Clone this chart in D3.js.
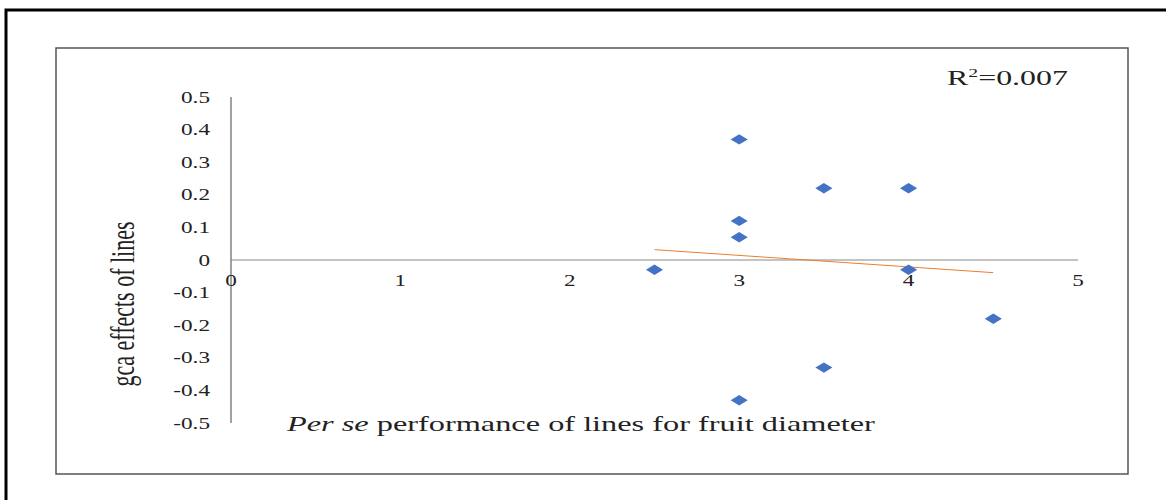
<!DOCTYPE html>
<html lang="en">
<head>
<meta charset="UTF-8">
<title>gca vs per se</title>
<script src="https://cdn.jsdelivr.net/npm/d3@7"></script>
<style>
  body{margin:0;background:#fff}
  text{font-family:"Liberation Serif","Times New Roman",serif;fill:#222}
</style>
</head>
<body>
<div id="chart"></div>
<script>
// data
const perSe = [2.5, 3, 3, 3, 3, 3.5, 3.5, 4, 4, 4.5]
const gca   = [-0.03, 0.37, 0.12, 0.07, -0.43, 0.22, -0.33, 0.22, -0.03, -0.18]
const xTicks = [0, 1, 2, 3, 4, 5]
const yTicks = [0.5, 0.4, 0.3, 0.2, 0.1, 0, -0.1, -0.2, -0.3, -0.4, -0.5]

const W = 1166, H = 500
const sx = 1.45   // picture is stretched sideways, text and markers too

const svg = d3.select('#chart').append('svg').attr('width', W).attr('height', H)

// outer frame (only left and top show)
svg.append('path').attr('d', 'M6,500 L6,10 L1166,10')
  .attr('fill', 'none').attr('stroke', '#000').attr('stroke-width', 3)
// inner box
svg.append('rect').attr('x', 56).attr('y', 48).attr('width', 1072).attr('height', 426)
  .attr('fill', 'none').attr('stroke', '#555').attr('stroke-width', 1.5)

const x = d3.scaleLinear().domain([0, 5]).range([231, 1078])
const y = d3.scaleLinear().domain([-0.5, 0.5]).range([423, 97])

// axes: the line only, no tick marks
svg.append('line').attr('x1', x(0)).attr('x2', x(0)).attr('y1', y(0.5)).attr('y2', y(-0.5))
  .attr('stroke', '#444').attr('stroke-width', 1)
svg.append('line').attr('x1', x(0)).attr('x2', x(5)).attr('y1', y(0)).attr('y2', y(0))
  .attr('stroke', '#888').attr('stroke-width', 1.2)

svg.selectAll('.ylab').data(yTicks).join('text').attr('class', 'ylab')
  .attr('transform', d => `translate(210,${y(d)}) scale(${sx},1)`)
  .attr('text-anchor', 'end').attr('dominant-baseline', 'central')
  .attr('font-size', 16).text(d => d3.format('.1f')(d).replace('0.0', '0').replace('−', '-'))

svg.selectAll('.xlab').data(xTicks).join('text').attr('class', 'xlab')
  .attr('transform', d => `translate(${x(d)},${y(0) + 20}) scale(${sx},1)`)
  .attr('text-anchor', 'middle').attr('dominant-baseline', 'central')
  .attr('font-size', 16).text(d => d)

// linear trend line over the data range
const mx = d3.mean(perSe), my = d3.mean(gca)
const sxy = d3.sum(perSe, (v, i) => (v - mx) * (gca[i] - my))
const sxx = d3.sum(perSe, v => (v - mx) ** 2)
const syy = d3.sum(gca, v => (v - my) ** 2)
const slope = sxy / sxx, icpt = my - slope * mx
const r2 = sxy * sxy / (sxx * syy)
const xr = d3.extent(perSe)
svg.append('line')
  .attr('x1', x(xr[0])).attr('y1', y(icpt + slope * xr[0]))
  .attr('x2', x(xr[1])).attr('y2', y(icpt + slope * xr[1]))
  .attr('stroke', '#ED7D31').attr('stroke-width', 1)

// diamond markers
svg.selectAll('.pt').data(perSe).join('path').attr('class', 'pt')
  .attr('d', 'M0,-5.2 L5,0 L0,5.2 L-5,0 Z')
  .attr('transform', (d, i) => `translate(${x(d)},${y(gca[i])}) scale(${sx * 1.18},1)`)
  .attr('fill', '#4472C4')

// R squared
const r2t = svg.append('text').attr('transform', `translate(947,85) scale(1.52,1)`)
  .attr('font-size', 21)
r2t.append('tspan').text('R')
r2t.append('tspan').attr('font-size', 13).attr('dy', -8).text('2')
r2t.append('tspan').attr('dy', 8).text('=' + d3.format('.3f')(r2))

// axis titles
const xt = svg.append('text').attr('transform', `translate(287,431) scale(1.47,1)`)
  .attr('font-size', 22)
xt.append('tspan').attr('font-style', 'italic').text('Per se')
xt.append('tspan').text(' performance of lines for fruit diameter')

svg.append('text').attr('transform', `translate(134,304) scale(1.5,1) rotate(-90)`)
  .attr('text-anchor', 'middle').attr('font-size', 22).text('gca effects of lines')
</script>
</body>
</html>
